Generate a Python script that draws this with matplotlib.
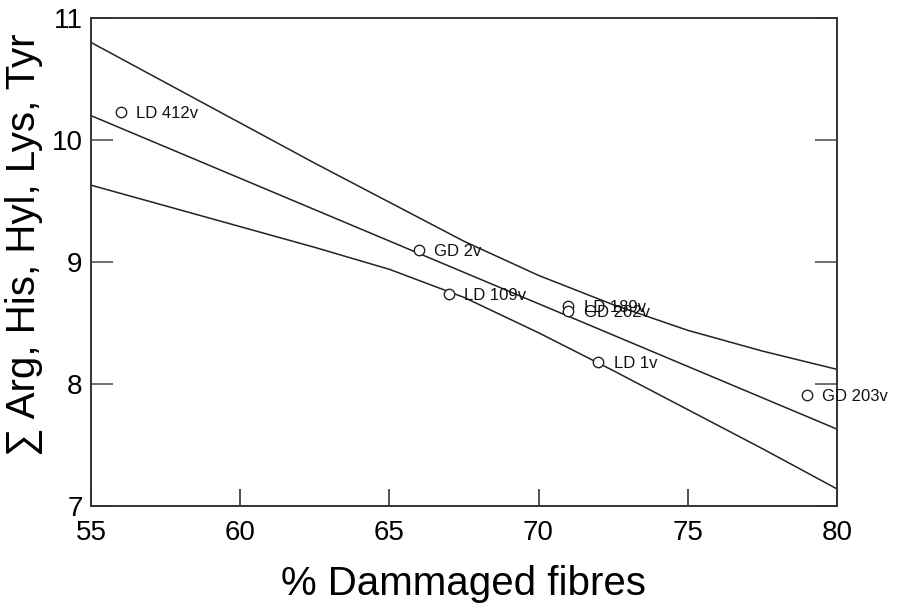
import matplotlib
matplotlib.use('Agg')
import matplotlib.pyplot as plt

# data
fibres = [56, 66, 67, 71, 71, 72, 79]
amino = [10.23, 9.10, 8.74, 8.64, 8.60, 8.18, 7.91]
names = ['LD 412v', 'GD 2v', 'LD 109v', 'LD 189v', 'GD 202v', 'LD 1v', 'GD 203v']

# regression line and the two band lines
fit_x = [55, 80]
fit_y = [10.20, 7.63]
band_x = [55, 57.5, 60, 62.5, 65, 67.5, 70, 72.5, 75, 77.5, 80]
band_upper = [10.80, 10.47, 10.14, 9.81, 9.49, 9.17, 8.89, 8.65, 8.44, 8.27, 8.12]
band_lower = [9.63, 9.46, 9.29, 9.12, 8.94, 8.71, 8.42, 8.11, 7.79, 7.47, 7.14]

plt.rcParams['font.family'] = ['Liberation Sans', 'DejaVu Sans']

fig = plt.figure(figsize=(8.98, 6.13), dpi=100)
ax = fig.add_axes([0.1013, 0.1746, 0.8307, 0.796])

line_col = '#222222'
ax.plot(fit_x, fit_y, color=line_col, lw=1.1)
ax.plot(band_x, band_upper, color=line_col, lw=1.1)
ax.plot(band_x, band_lower, color=line_col, lw=1.1)

ax.plot(fibres, amino, 'o', ms=7.5, mfc='white', mec=line_col, mew=1.0, zorder=3)
for x, y, name in zip(fibres, amino, names):
    ax.annotate(name, (x, y), xytext=(11, -1), textcoords='offset points',
                va='center', ha='left', fontsize=12, color='#111111')

ax.set_xlim(55, 80)
ax.set_ylim(7, 11)
ax.set_xticks([55, 60, 65, 70, 75, 80])
ax.set_yticks([7, 8, 9, 10, 11])

ax.tick_params(axis='x', direction='in', length=12, width=1.2, pad=10,
               labelsize=20, color='#333333')
ax.tick_params(axis='y', direction='in', length=16, width=1.2, pad=6,
               labelsize=20, color='#555555', right=True)

for s in ax.spines.values():
    s.set_linewidth(1.4)
    s.set_color('#333333')

ax.set_xlabel('% Dammaged fibres', fontsize=29, labelpad=14)
ax.set_ylabel('\u2211 Arg, His, Hyl, Lys, Tyr', fontsize=29)
ax.yaxis.set_label_coords(-0.064, 0.535)

fig.savefig('out.png', dpi=100)
